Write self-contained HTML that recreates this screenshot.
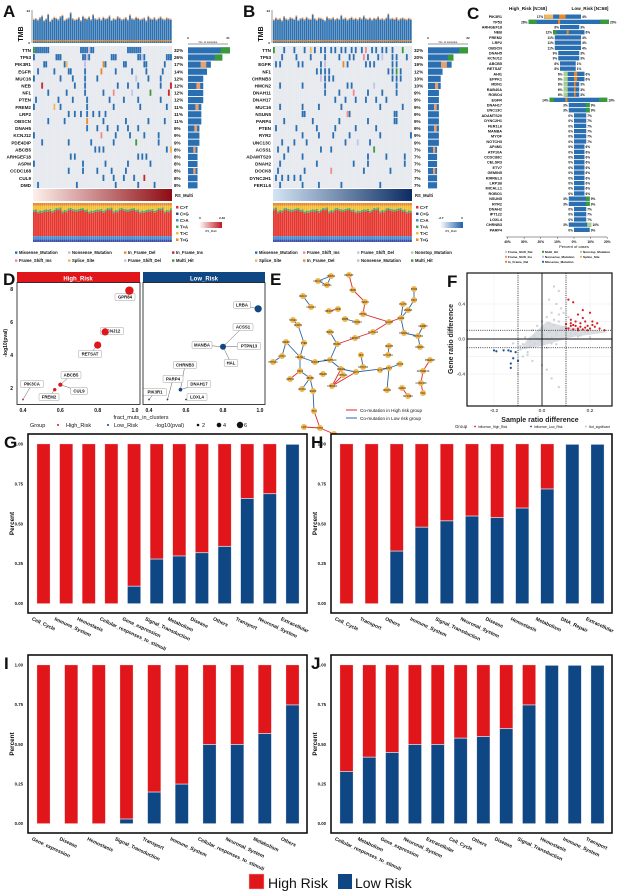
<!DOCTYPE html>
<html><head><meta charset="utf-8">
<style>
html,body{margin:0;padding:0;background:#fff;}
svg{display:block;font-family:"Liberation Sans",sans-serif;}
</style></head>
<body>
<svg id="fig" width="620" height="894" viewBox="0 0 620 894" xmlns="http://www.w3.org/2000/svg">
<rect width="620" height="894" fill="#fff"/>
<g id="root"></g>
</svg>
<script>
// ---------- DATA ----------
const genesA = ["TTN","TP53","PIK3R1","EGFR","MUC16","NEB","NF1","PTEN","FREM2","LRP2","OBSCN","DNAH5","KCNJ12","PDE4DIP","ABCB5","ARHGEF18","ASPM","CCDC168","CUL9","DMD"];
const pctA = [32,26,17,14,12,12,12,12,11,11,11,9,9,9,8,8,8,8,8,8];
const genesB = ["TTN","TP53","EGFR","NF1","CHRNB3","HMCN2","DNAH11","DNAH17","MUC16","NSUN5","PARP4","PTEN","RYR2","UNC13C","ACSS1","ADAMTS20","DNAH2","DOCK8","DYNC2H1","FER1L6"];
const pctB = [32,20,19,12,10,10,9,9,9,9,9,9,9,9,7,7,7,7,7,7];
const tmbA = [70,72,68,75,80,66,71,85,64,70,76,73,69,78,82,67,71,74,90,72,68,70,75,66,79,73,71,77,69,84,72,70,74,68,76,71,73,80,67,72,70,78,74,69,71,75,68,83,72,70,76,73,69,71,74,66,79,72,70,75,68,73,77,71,69,74,72,70];
const tmbB = [68,74,70,72,66,78,71,69,75,73,70,80,67,72,74,69,76,71,70,85,72,68,74,73,70,66,77,72,71,75,69,73,70,82,71,74,68,72,76,70,73,69,75,71,80,72,70,74,68,73,71,77,70,72,69,74,86,71,73,70,75,68,72,74,71,69,73,70];
const sigRed = [0.62,0.66,0.6,0.64,0.68,0.63,0.58,0.65,0.67,0.61,0.64,0.66,0.6,0.63,0.69,0.62,0.65,0.59,0.64,0.66,0.62,0.63,0.67,0.61,0.65];
const genesC = ["PIK3R1","TP53","ARHGEF18","NEB","FREM2","LRP2","OBSCN","DNAH5","KCNJ12","ABCB5","RETSAT","AHI1","EPPK1","MDN1","RAB40A","ROBO4","EGFR","DNAH17","UNC13C","ADAMTS20","DYNC2H1","FER1L6","MANBA","MYOF","NOTCH3","AP4M1","ATP10A","CCDC88C","CELSR3","ETV7","GEMIN5","KIRREL3","LRP1B","MICALL1","ROBO1","NSUN5","RYR2","DNAH2","IPT122","LOXL4","CHRNB3","PARP4"];
const highC = [17,26,8,12,11,11,11,9,9,8,8,6,6,6,6,6,14,3,3,0,0,0,0,0,0,0,0,0,0,0,0,0,0,0,0,3,3,0,0,0,3,0];
const lowC = [4,20,3,6,4,4,4,3,3,1,1,6,6,3,3,3,19,9,9,7,7,7,7,7,7,6,6,6,6,6,6,6,6,6,6,9,9,7,7,7,10,9];
const dHighGenes = ["GPR84","KCNJ12","RETSAT","ABCB5","CUL9","FREM2","PIK3CA"];
const dHighX = [0.97,0.84,0.8,0.6,0.6,0.57,0.4];
const dHighY = [7.9,5.4,4.6,2.2,2.2,1.9,1.3];
const dHighP = [6,5,5,2.5,2,1.8,0.5];
const dLowGenes = ["LRBA","ACSS1","MANBA","PTPN13","HAL","CHRNB3","DNAH17","PARP4","PIK3R1","LOXL4"];
const dLowX = [0.99,0.8,0.8,0.8,0.8,0.57,0.57,0.5,0.4,0.6];
const dLowY = [6.8,4.5,4.5,4.5,4.5,1.9,1.9,1.3,1.3,1.3];
const dLowP = [5,0,4,0,0,0,2,0.5,0.5,0.5];
const fRedX = [0.11,0.13,0.17,0.2,0.15,0.12,0.14,0.18,0.21,0.1,0.12,0.14,0.16,0.19,0.22,0.11,0.13,0.15,0.17,0.2,0.24,0.26,0.12,0.16,0.18,0.23,0.1,0.19,0.15,0.13,0.21,0.17];
const fRedY = [0.45,0.42,0.33,0.3,0.28,0.22,0.2,0.2,0.2,0.17,0.15,0.15,0.14,0.15,0.14,0.12,0.11,0.12,0.11,0.12,0.12,0.1,0.18,0.18,0.13,0.18,0.12,0.1,0.1,0.16,0.16,0.24];
const fBlueX = [-0.2,-0.19,-0.16,-0.14,-0.13,-0.11,-0.12,-0.13,-0.13,-0.1];
const fBlueY = [-0.13,-0.14,-0.13,-0.13,-0.14,-0.15,-0.22,-0.28,-0.33,-0.25];
const fGreyX = [0.05,0.07,0.03,0.06,0.08,0.04,0.02,0.0,-0.02,-0.04,0.01,0.03,0.05,0.07,0.09,0.06,0.04,0.02,-0.01,-0.03,-0.05,-0.07,-0.09,-0.06,-0.08,-0.04,0.0,0.02,0.04,0.06,0.08,0.1,0.12,0.14,0.16,0.18,0.2,0.09,0.07,0.05,0.03,0.01,-0.02,-0.05,-0.08,-0.1,-0.06,0.02,0.04,0.07,0.1,0.12,0.15,-0.03,-0.07,0.0,0.03,0.06,-0.12,-0.09,0.08,0.11];
const fGreyY = [0.6,0.55,0.45,0.4,0.35,0.3,0.25,0.2,0.15,0.1,0.12,0.18,0.22,0.28,0.3,0.05,0.02,0.0,-0.02,-0.05,-0.08,-0.1,-0.12,-0.15,-0.2,-0.25,-0.3,-0.1,-0.05,0.08,0.1,0.05,0.03,0.06,0.04,0.08,0.02,0.14,0.2,0.16,0.08,0.04,0.0,-0.03,-0.06,-0.4,-0.18,-0.35,-0.45,-0.55,0.01,0.07,0.03,0.03,0.02,0.05,-0.01,-0.06,-0.05,-0.08,0.12,0.25];
const catsG = ["Cell_Cycle","Immune_System","Hemostasis","Cellular_responses_to_stimuli","Gene_expression","Signal_Transduction","Metabolism","Disease","Others","Transport","Neuronal_System","Extracellular"];
const lowG = [0,0,0,0,0.11,0.28,0.30,0.32,0.36,0.66,0.69,1];
const catsH = ["Cell_Cycle","Transport","Others","Immune_System","Signal_Transduction","Neuronal_System","Disease","Hemostasis","Metabolism","DNA_Repair","Extracellular"];
const lowH = [0,0,0.33,0.48,0.52,0.55,0.54,0.60,0.72,1,1];
const catsI = ["Gene_expression","Disease","Hemostasis","Signal_Transduction","Transport","Immune_System","Cellular_responses_to_stimuli","Neuronal_System","Metabolism","Others"];
const lowI = [0,0,0,0.03,0.2,0.25,0.5,0.5,0.57,0.75];
const catsJ = ["Cellular_responses_to_stimuli","Metabolism","Gene_expression","Neuronal_System","Extracellular","Cell_Cycle","Others","Disease","Signal_Transduction","Hemostasis","Immune_System","Transport"];
const lowJ = [0.33,0.42,0.45,0.5,0.5,0.54,0.55,0.6,0.75,1,1,1];
const yTicks = ["0.00","0.25","0.50","0.75","1.00"];
const yTickVals = [0,0.25,0.5,0.75,1];

// ---------- HELPERS ----------
const NS="http://www.w3.org/2000/svg";
const root=document.getElementById('root');
function el(tag,attrs,parent,txt){const e=document.createElementNS(NS,tag);for(const k in attrs)e.setAttribute(k,attrs[k]);if(txt!==undefined)e.textContent=txt;(parent||root).appendChild(e);return e;}
function grp(name,parent){const g=el('g',{},parent);


return g;}
function txt(parent,x,y,s,size,opts){opts=opts||{};const t=el('text',{x:x,y:y,'font-size':size,fill:opts.fill||'#111','text-anchor':opts.anchor||'start','font-weight':opts.bold===false?'normal':'bold'},parent,s);if(opts.rot)t.setAttribute('transform',`rotate(${opts.rot} ${x} ${y})`);return t;}
const RED="#e0161b", BLUE="#0f4684";
const MUT={mis:"#2a6fb2",multi:"#3a9a3a",ifd:"#e8892b",ifi:"#c8252b",fsi:"#f08a8a",ss:"#f2b45c",fsd:"#bcc6e6",non:"#c9b6dc"};
const MULTS=[3,5,7,9,11,13,15,19,21,23,25,27,29,31,33,35,37,39,41,43];

// panel letters
[["A",3,17],["B",243,17],["C",467,19],["D",3,285],["E",270,285],["F",447,287],["G",4,448],["H",311,448],["I",4,669],["J",311,669]].forEach(a=>{
 const t=txt(root,a[1],a[2],a[0],17);
 
 
});

// ---------- ONCOPLOTS ----------
function oncoplot(id,x0,genes,pct,tmb,maxN,gradA,gradB,mutSeed){
 const g=grp('oncoplot-'+id);
 const x1=x0+139, cw=139/68;
 const tg=grp('tmb-bars-'+id,g);
 txt(tg,x0-10,34,"TMB",7,{rot:-90,anchor:'middle'});
 el('line',{x1:x0-1,y1:10,x2:x0-1,y2:43,stroke:'#333','stroke-width':0.5},tg);
 txt(tg,x0-3,12,"94",3,{anchor:'end'});txt(tg,x0-3,44,"0",3,{anchor:'end'});
 const tScale=v=>33*v/100;
 tmb.forEach((v,j)=>{const h=tScale(v);
  const r=el('rect',{x:x0+j*cw,y:43-h,width:cw*0.85,height:h,fill:'#2c70b0'},tg);
  
  
  el('rect',{x:x0+j*cw,y:43-h-1.2,width:cw*0.85,height:1.2,fill:'#f0a060'},tg);
  el('rect',{x:x0+j*cw,y:40,width:cw*0.85,height:1.5,fill:'#e8892b'},tg);});
 const og=grp('mutation-grid-'+id,g);
 el('rect',{x:x0,y:46,width:139,height:142,fill:'#e6e9ee'},og);
 const keys=Object.keys(MUT);
 genes.forEach((gn,i)=>{const y=47+i*7.1;
  txt(og,x0-2,y+5,gn,4.6,{anchor:'end'});
  txt(og,x1+2,y+5,pct[i]+"%",4.6);
  const cnt=Math.round(pct[i]*68/100);
  const m=MULTS[(i+mutSeed)%MULTS.length];
  for(let j=0;j<68;j++){ if(((j*m+i*17+mutSeed)%68)<cnt){
    const k=((j+i)%9===0)?keys[1+((i+j)%7)]:'mis';
    const c=el('rect',{x:x0+j*cw,y:y,width:cw*0.95,height:6.2,fill:MUT[k]},og);
    
    }}
  const bw=cnt/maxN*40;
  const b=el('rect',{x:x1+16,y:y+0.3,width:bw,height:6.2,fill:'#2a6fb2'},og);
  
  
  if(i<2) el('rect',{x:x1+16+bw*0.78,y:y+0.3,width:bw*0.22,height:6.2,fill:'#3a9a3a'},og);
  else if(i%3==2) el('rect',{x:x1+16+bw*0.55,y:y+0.3,width:bw*0.25,height:6.2,fill:'#e8a070'},og);
 });
 for(let j=1;j<68;j++) el('line',{x1:x0+j*cw-0.1,y1:46,x2:x0+j*cw-0.1,y2:188,stroke:'#fff','stroke-width':0.15},og);
 el('line',{x1:x1+16,y1:44,x2:x1+56,y2:44,stroke:'#333','stroke-width':0.5},og);
 txt(og,x1+16,39,"0",3,{anchor:'middle'});txt(og,x1+56,39,String(maxN),3,{anchor:'middle'});
 txt(og,x1+36,43,"No. of samples",2.8,{anchor:'middle',bold:false});
 const gid='grad'+id;const d=el('defs',{},g);const lg=el('linearGradient',{id:gid},d);
 el('stop',{offset:'0',"stop-color":gradA},lg);el('stop',{offset:'1',"stop-color":gradB},lg);
 const rs=el('rect',{x:x0,y:189,width:139,height:12,fill:`url(#${gid})`},g);
 
 
 txt(g,x1+3,197,"RS_Multi",4.2);
 const sg=grp('signature-bars-'+id,g);
 for(let j=0;j<68;j++){const r=sigRed[(j*3+mutSeed)%sigRed.length];
  const parts=[["#3b4fa8",0.07],["#3d8fd6",0.08],[ "#e6372f",r],["#4aa86a",0.05],["#f3c02d",1-r-0.27],["#e8892b",0.07]];
  let y=242;parts.forEach(p=>{const h=p[1]*39;el('rect',{x:x0+j*cw,y:y-h,width:cw*0.92,height:h,fill:p[0]},sg);y-=h;});}
 const sl=grp('signature-legend-'+id,g);
 [["C>T","#e6372f"],["C>G","#3b4fa8"],["C>A","#3d8fd6"],["T>A","#4aa86a"],["T>C","#f3c02d"],["T>G","#e8892b"]].forEach((s,i)=>{
  el('rect',{x:x1+4,y:206+i*6.5,width:2.5,height:2.5,fill:s[1]},sl);txt(sl,x1+8,209+i*6.5,s[0],4.2);});
}
oncoplot('a',33,genesA,pctA,tmbA,21,'#fdf0ec','#8e0b12',0);
oncoplot('b',273,genesB,pctB,tmbB,22,'#d3e4f4','#0b2c63',11);
(function(){const d=el('defs',{});const a=el('linearGradient',{id:'cba'},d);el('stop',{offset:0,'stop-color':'#fff'},a);el('stop',{offset:1,'stop-color':'#c0171d'},a);
 const b=el('linearGradient',{id:'cbb'},d);el('stop',{offset:0,'stop-color':'#fff'},b);el('stop',{offset:1,'stop-color':'#1f5fa8'},b);
 const g1=grp('colorbar-a');el('rect',{x:199,y:222,width:23,height:6,fill:'url(#cba)'},g1);txt(g1,200,219,"0",3,{anchor:'middle'});txt(g1,222,219,"2.49",3,{anchor:'middle'});txt(g1,211,232,"RS_Multi",2.8,{anchor:'middle',bold:false});
 const g2=grp('colorbar-b');el('rect',{x:440,y:222,width:23,height:6,fill:'url(#cbb)'},g2);txt(g2,441,219,"-2.7",3,{anchor:'middle'});txt(g2,462,219,"0",3,{anchor:'middle'});txt(g2,451,232,"RS_Multi",2.8,{anchor:'middle',bold:false});})();
function mutLegend(name,items){const g=grp(name);items.forEach(it=>{el('rect',{x:it[1],y:it[2]-2.6,width:2.4,height:2.4,fill:it[3]},g);txt(g,it[1]+4,it[2],it[0],4.2);});}
mutLegend('mutation-legend-a',[["Missense_Mutation",15,254,MUT.mis],["Nonsense_Mutation",68,254,MUT.non],["In_Frame_Del",124,254,MUT.ifd],["In_Frame_Ins",172,254,MUT.ifi],["Frame_Shift_Ins",15,262,MUT.fsi],["Splice_Site",68,262,MUT.ss],["Frame_Shift_Del",124,262,MUT.fsd],["Multi_Hit",172,262,MUT.multi]]);
mutLegend('mutation-legend-b',[["Missense_Mutation",255,254,MUT.mis],["Frame_Shift_Ins",303,254,MUT.fsi],["Frame_Shift_Del",357,254,MUT.fsd],["Nonstop_Mutation",411,254,"#a8d08d"],["Splice_Site",255,262,MUT.ss],["In_Frame_Del",303,262,MUT.ifd],["Nonsense_Mutation",357,262,MUT.non],["Multi_Hit",411,262,MUT.multi]]);

// ---------- PANEL C ----------
(function(){const g=grp('panel-c-comparison');const cx=574,s=1.75;
 txt(g,528,10,"High_Risk [N=68]",4.6,{anchor:'middle'});txt(g,590,10,"Low_Risk [N=68]",4.6,{anchor:'middle'});
 genesC.forEach((gn,i)=>{const y=14.5+i*5.2;txt(g,502,y+3.6,gn,3.8,{anchor:'end'});
  const hw=highC[i]*s,lw=lowC[i]*s;
  const hb=el('rect',{x:cx-hw,y:y,width:hw,height:4.3,fill:'#2a6fb2'},g);
  
  
  const lb=el('rect',{x:cx,y:y,width:lw,height:4.3,fill:'#2a6fb2'},g);
  
  
  if(highC[i]>=12){el('rect',{x:cx-hw,y:y,width:hw*0.18,height:4.3,fill:'#3a9a3a'},g);el('rect',{x:cx-hw*0.35,y:y,width:2,height:4.3,fill:'#e8892b'},g);}
  if(i==0){el('rect',{x:cx-hw,y:y,width:hw*0.3,height:4.3,fill:'#f2b45c'},g);el('rect',{x:cx-hw*0.5,y:y,width:hw*0.2,height:4.3,fill:'#e8892b'},g);}
  if(lowC[i]>=9&&i!=41) el('rect',{x:cx+lw*0.75,y:y,width:lw*0.25,height:4.3,fill:i==40?'#a8d08d':'#3a9a3a'},g);
  if(i>10&&i<16){el('rect',{x:cx-hw,y:y,width:hw*0.4,height:4.3,fill:'#a8d08d'},g);el('rect',{x:cx,y:y,width:lw*0.3,height:4.3,fill:'#e8892b'},g);}
  txt(g,cx-hw-1,y+3.6,highC[i]+"%",3.2,{anchor:'end'});txt(g,cx+lw+1,y+3.6,lowC[i]+"%",3.2);});
 el('line',{x1:506,y1:237,x2:607,y2:237,stroke:'#333','stroke-width':0.5},g);
 const ticks=["40%","30%","20%","10%","0%","10%","20%"];
 ticks.forEach((t,i)=>{const x=cx+(i-4)*10*s*0.95;el('line',{x1:x,y1:237,x2:x,y2:239,stroke:'#333','stroke-width':0.4},g);txt(g,x,243,t,3.3,{anchor:'middle'});});
 txt(g,cx,248,"Percent of cases",4,{anchor:'middle',bold:false});
 const L=[["Frame_Shift_Del",505,253,MUT.fsd],["Multi_Hit",542,253,MUT.multi],["Nonstop_Mutation",580,253,"#a8d08d"],["Frame_Shift_Ins",505,258,MUT.fsi],["Nonsense_Mutation",542,258,MUT.non],["Splice_Site",580,258,MUT.ss],["In_Frame_Del",505,263,MUT.ifd],["Missense_Mutation",542,263,MUT.mis]];
 L.forEach(it=>{el('rect',{x:it[1],y:it[2]-2.2,width:2,height:2,fill:it[3]},g);txt(g,it[1]+3,it[2],it[0],3.1);});})();

// ---------- PANEL D ----------
(function(){const g=grp('panel-d-clusters');
 const yS=v=>388-(v-2)*16.5;
 const xL=v=>23+(v-0.4)/0.6*112, xR=v=>149+(v-0.4)/0.6*111;
 el('rect',{x:17,y:272,width:123,height:10.5,fill:RED},g);el('rect',{x:143,y:272,width:122,height:10.5,fill:BLUE},g);
 txt(g,78,280.5,"High_Risk",6,{anchor:'middle',fill:'#fff'});txt(g,204,280.5,"Low_Risk",6,{anchor:'middle',fill:'#fff'});
 el('rect',{x:17,y:282.5,width:123,height:122,fill:'none',stroke:'#111','stroke-width':0.8},g);
 el('rect',{x:143,y:282.5,width:122,height:122,fill:'none',stroke:'#111','stroke-width':0.8},g);
 [2,4,6,8].forEach(v=>txt(g,13,yS(v)+2,String(v),5,{anchor:'end'}));
 txt(g,7,343,"-log10(pval)",5,{rot:-90,anchor:'middle'});
 [0.4,0.6,0.8,1.0].forEach(v=>{txt(g,xL(v),412,v.toFixed(1),5,{anchor:'middle'});txt(g,xR(v),412,v.toFixed(1),5,{anchor:'middle'});});
 txt(g,141,419,"fract_muts_in_clusters",5.5,{anchor:'middle',bold:false});
 function lab(x,y,s,px,py){el('line',{x1:px,y1:py,x2:x,y2:y,stroke:'#333','stroke-width':0.4},g);const w=s.length*3.2+4;el('rect',{x:x-w/2,y:y-3.5,width:w,height:7,rx:1,fill:'#fff',stroke:'#888','stroke-width':0.4},g);txt(g,x,y+1.7,s,4.3,{anchor:'middle'});}
 const hl=[[125,297],[112,331],[90,354],[71,375],[79,391],[49,397],[32,384]];
 dHighGenes.forEach((gn,i)=>{const px=xL(dHighX[i]),py=yS(dHighY[i]);lab(hl[i][0],hl[i][1],gn,px,py);
  const c=el('circle',{cx:px,cy:py,r:0.6+dHighP[i]*0.6,fill:RED},g);
  
  });
 const ll=[[242,305],[243,327],[202,345],[249,346],[231,363],[185,365],[199,384],[173,379],[155,392],[197,397]];
 dLowGenes.forEach((gn,i)=>{const px=xR(dLowX[i]),py=yS(dLowY[i]);lab(ll[i][0],ll[i][1],gn,px,py);});
 dLowGenes.forEach((gn,i)=>{if(dLowP[i]>0){const c=el('circle',{cx:xR(dLowX[i]),cy:yS(dLowY[i]),r:0.6+dLowP[i]*0.6,fill:BLUE},g);
  
  }});
 const lg=grp('panel-d-legend',g);
 txt(lg,30,427,"Group",5.5,{bold:false});el('circle',{cx:58,cy:425,r:1,fill:RED},lg);txt(lg,66,427,"High_Risk",5.5,{bold:false});
 el('circle',{cx:108,cy:425,r:1,fill:BLUE},lg);txt(lg,114,427,"Low_Risk",5.5,{bold:false});
 txt(lg,155,427,"-log10(pval)",5.5,{bold:false});
 [[198,1.3,"2"],[219,2.3,"4"],[240,3.2,"6"]].forEach(d=>{el('circle',{cx:d[0],cy:425,r:d[1],fill:'#111'},lg);txt(lg,d[0]+4,427,d[2],5.5,{bold:false});});})();

// ---------- PANEL E (network) ----------
(function(){const g=grp('panel-e-network');
 const N=[["HMCN2",331,276],["UNC13C",318,281],["DNAH11",327,285],["RETSAT",349,275],["MDN1",353,290],["TENT2",365,302],["DTHD1",363,314],["ACACB",389,322],["EGFR",401,318],["PLCH1",403,304],["MANBA",408,310],["RYR2",414,289],["CSF7",414,300],["DNAH17",404,333],["NOTCH4",418,336],["GEMIN5",423,326],["DNAH11",420,347],["SLC5A12",373,332],["DEPDC5",355,338],["PIK3R1",337,344],["HMCN1",330,332],["ADAMTS20",330,360],["DOCK8",315,362],["CELSR3",300,357],["PTEN",304,343],["DNAH2",298,325],["SYNE1",293,320],["MUC16",303,296],["COL6A3",311,307],["OBSCN",329,311],["NEB",338,309],["KBPB",345,319],["LOXHD1",357,322],["PARP4",286,342],["LOXL4",282,356],["PTPN13",273,362],["CSF3",300,371],["GPR84",290,379],["FREM2",323,374],["ABCB5",310,378],["ACSS1",302,389],["EGFR",313,391],["TTN",314,411],["TP53",320,428],["LRP",304,427],["DMD",334,434],["FREM2",341,369],["ACTL",356,372],["ATP10A",343,375],["CHRNB3",332,386],["NF1",361,355],["NOTCH3",363,367],["DNAH5",389,346],["MYO15A",388,355],["ETV7",389,368],["MYOF",400,364],["EYS",380,370],["DNAH2",387,390],["PDE4DIP",430,360],["ARHGEF18",423,371],["CCDC168",421,383],["HAL",423,393],["LAMA2",402,388],["MYO18A",408,396]];
 const E=[[0,1,'b'],[1,2,'b'],[0,2,'b'],[3,4,'r'],[4,5,'r'],[5,6,'r'],[6,7,'r'],[7,8,'r'],[8,9,'b'],[8,10,'b'],[11,12,'b'],[12,10,'b'],[8,13,'b'],[13,14,'b'],[14,15,'b'],[14,16,'b'],[7,17,'r'],[17,18,'r'],[18,19,'r'],[19,20,'b'],[19,21,'b'],[21,22,'b'],[22,23,'b'],[23,24,'b'],[24,25,'b'],[25,26,'b'],[27,28,'b'],[29,30,'r'],[31,32,'b'],[23,33,'b'],[33,34,'b'],[34,35,'b'],[23,36,'b'],[36,37,'r'],[36,39,'b'],[39,40,'b'],[39,41,'b'],[41,42,'b'],[42,43,'r'],[43,44,'r'],[43,45,'r'],[21,46,'b'],[46,47,'b'],[46,48,'r'],[46,49,'r'],[48,49,'r'],[47,49,'r'],[50,51,'b'],[52,53,'b'],[47,54,'b'],[54,55,'b'],[54,56,'b'],[54,57,'b'],[58,59,'r'],[59,60,'r'],[60,61,'r'],[62,63,'r']];
 E.forEach(e=>{const a=N[e[0]],b=N[e[1]];const l=el('line',{x1:a[1],y1:a[2],x2:b[1],y2:b[2],stroke:e[2]=='r'?'#e0262b':'#2c64a6','stroke-width':0.9},g);
  
  });
 N.forEach(n=>{const c=el('circle',{cx:n[1],cy:n[2],r:3,fill:'#f2b64e'},g);
  
  
  txt(g,n[1],n[2]+1,n[0],2.4,{anchor:'middle',bold:false});});
 el('line',{x1:346,y1:410,x2:357,y2:410,stroke:'#e0262b','stroke-width':1},g);txt(g,360,412,"Co-mutation in High risk group",4.6,{bold:false});
 el('line',{x1:346,y1:418,x2:357,y2:418,stroke:'#2c64a6','stroke-width':1},g);txt(g,360,420,"Co-mutation in Low risk group",4.6,{bold:false});})();

// ---------- PANEL F ----------
(function(){const g=grp('panel-f-scatter');
 const xS=v=>542+v*240, yS=v=>339-v*87.5;
 el('rect',{x:467,y:273,width:145,height:133,fill:'#fff'},g);
 [-0.2,-0.1,0,0.1,0.2].forEach(v=>el('line',{x1:xS(v),y1:273,x2:xS(v),y2:406,stroke:'#e4e4e4','stroke-width':0.4},g));
 [-0.4,-0.2,0,0.2,0.4].forEach(v=>el('line',{x1:467,y1:yS(v),x2:612,y2:yS(v),stroke:'#e4e4e4','stroke-width':0.4},g));
 fGreyX.forEach((x,i)=>{const c=el('rect',{x:xS(x)-1,y:yS(fGreyY[i])-1,width:2,height:2,fill:'#c9cfd8'},g);
  
  });
 el('polygon',{points:`${xS(-0.09)},${yS(-0.12)} ${xS(0.0)},${yS(-0.08)} ${xS(0.12)},${yS(0.02)} ${xS(0.28)},${yS(0.08)} ${xS(0.1)},${yS(0.14)} ${xS(0.02)},${yS(0.2)} ${xS(-0.06)},${yS(0.0)}`,fill:'#cfd4db',opacity:0.8},g);
 fRedX.forEach((x,i)=>{const c=el('circle',{cx:xS(x),cy:yS(fRedY[i]),r:1.1,fill:'#d81e20'},g);
  
  });
 fBlueX.forEach((x,i)=>{const c=el('circle',{cx:xS(x),cy:yS(fBlueY[i]),r:1.1,fill:'#1f4f94'},g);
  
  });
 [-0.1,0.1].forEach(v=>{el('line',{x1:xS(v),y1:273,x2:xS(v),y2:406,stroke:'#111','stroke-width':0.8,'stroke-dasharray':'1,1.2'},g);el('line',{x1:467,y1:yS(v),x2:612,y2:yS(v),stroke:'#111','stroke-width':0.8,'stroke-dasharray':'1,1.2'},g);});
 el('line',{x1:xS(0),y1:273,x2:xS(0),y2:406,stroke:'#111','stroke-width':0.9},g);el('line',{x1:467,y1:yS(0),x2:612,y2:yS(0),stroke:'#111','stroke-width':0.9},g);
 el('rect',{x:467,y:273,width:145,height:133,fill:'none',stroke:'#111','stroke-width':1.2},g);
 [-0.2,0,0.2].forEach(v=>txt(g,xS(v),412,v.toFixed(1),4.8,{anchor:'middle',bold:false}));
 [-0.4,0,0.4].forEach(v=>txt(g,465,yS(v)+1.7,v.toFixed(1),4.8,{anchor:'end',bold:false}));
 txt(g,453,339,"Gene ratio difference",7,{rot:-90,anchor:'middle',fill:'#222'});
 txt(g,540,422,"Sample ratio difference",7,{anchor:'middle',fill:'#222'});
 txt(g,455,428,"Group",4.4,{bold:false});el('circle',{cx:475,cy:426.5,r:0.9,fill:RED},g);txt(g,478,428,"Influence_High_Risk",3.2,{bold:false});
 el('circle',{cx:531,cy:426.5,r:0.9,fill:BLUE},g);txt(g,534,428,"Influence_Low_Risk",3.2,{bold:false});
 el('circle',{cx:586,cy:426.5,r:0.9,fill:'#bbb'},g);txt(g,589,428,"Not_significant",3.2,{bold:false});})();

// ---------- BAR PANELS G-J ----------
function barPanel(id,x0,y0,x1,y1,cats,low){
 const g=grp('bar-chart-'+id);
 const yTop=y0+10,yBase=y1-9.5;
 const yS=v=>yBase-v*(yBase-yTop);
 const n=cats.length, c0=x0+15.5, c1=x1-14.5, step=(c1-c0)/(n-1);
 const xS=i=>c0+i*step;
 el('rect',{x:x0,y:y0,width:x1-x0,height:y1-y0,fill:'#fff',stroke:'#111','stroke-width':1.6},g);
 yTicks.forEach((t,i)=>txt(g,x0-5,yS(yTickVals[i])+1.5,t,4.3,{anchor:'end'}));
 txt(g,x0-14,(y0+y1)/2,"Percent",6.3,{rot:-90,anchor:'middle'});
 cats.forEach((c,i)=>{const x=xS(i)-6.5,lv=low[i];
  const rb=el('rect',{x:x,y:yS(1),width:13,height:yS(lv)-yS(1),fill:RED,stroke:'#f4c0c0','stroke-width':0.3},g);
  
  
  if(lv>0){const bb=el('rect',{x:x,y:yS(lv)+0.5,width:13,height:Math.max(0,yS(0)-yS(lv)-0.5),fill:BLUE,stroke:'#c0d0ea','stroke-width':0.3},g);
   
   }
  txt(g,xS(i)-12,y1+7,c,5,{rot:25});});
}
barPanel('g',28,434,307,613,catsG,lowG);
barPanel('h',331,434,612,613,catsH,lowH);
barPanel('i',28,655,307,833,catsI,lowI);
barPanel('j',331,655,612,833,catsJ,lowJ);
(function(){const g=grp('risk-legend');
 const r1=el('rect',{x:249,y:874,width:15,height:15,fill:RED,stroke:'#f4c0c0','stroke-width':0.5},g);
 
 
 txt(g,268,888,"High Risk",14,{bold:false});
 const r2=el('rect',{x:338,y:874,width:14,height:15,fill:BLUE},g);
 
 
 txt(g,355,888,"Low Risk",14,{bold:false});})();
</script>
</body></html>
